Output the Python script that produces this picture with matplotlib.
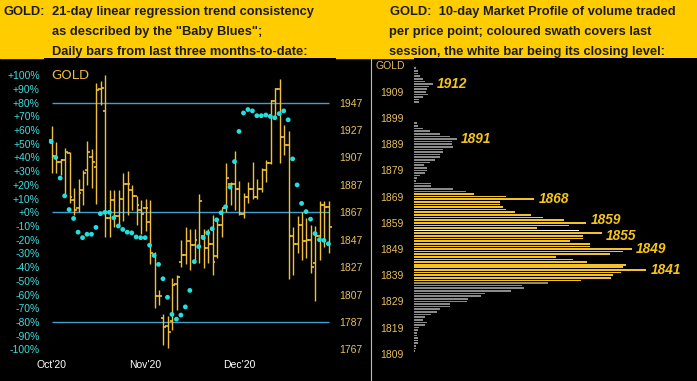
import numpy as np
import matplotlib
matplotlib.use("Agg")
import matplotlib.pyplot as plt
from matplotlib.lines import Line2D

plt.rcParams['font.family'] = ['Liberation Sans', 'DejaVu Sans']

# daily bars (price), left panel
opens  = [1920,1908,1904,1905,1910,1876,1870,1883,1898,1907,1900,1957,1941,1863,1876,1864,
          1877,1888,1883,1879,1869,1870,1860,1836,1806,1790,1784,1788,1815,1831,1836,1846,
          1843,1842,1850,1841,1844,1835,1858,1870,1888,1888,1884,1866,1878,1884,1878,1884,
          1898,1903,1948,1957,1922,1916,1850,1844,1858,1846,1847,1830,1850,1872,1871]
highs  = [1930,1918,1906,1914,1911,1885,1891,1898,1919,1913,1961,1963,1967,1883,1883,1883,
          1896,1897,1887,1879,1876,1877,1876,1838,1810,1793,1791,1819,1821,1847,1856,1855,
          1855,1880,1855,1855,1865,1863,1870,1903,1889,1912,1890,1881,1889,1904,1891,1899,
          1905,1949,1958,1964,1931,1926,1856,1864,1867,1863,1858,1857,1875,1875,1875]
lows   = [1896,1896,1894,1880,1874,1865,1867,1872,1887,1885,1873,1945,1849,1849,1856,1856,
          1861,1865,1869,1858,1851,1853,1829,1797,1799,1770,1768,1781,1796,1827,1829,1825,
          1831,1830,1826,1830,1821,1834,1849,1867,1872,1869,1865,1863,1874,1877,1877,1882,
          1889,1902,1936,1903,1909,1818,1821,1837,1832,1834,1823,1802,1832,1842,1837]
closes = [1908,1904,1905,1911,1878,1869,1881,1896,1911,1904,1956,1958,1863,1876,1864,1877,
          1888,1888,1879,1872,1866,1870,1837,1806,1806,1783,1780,1814,1820,1836,1846,1843,
          1847,1875,1841,1844,1831,1858,1870,1892,1888,1884,1866,1878,1884,1878,1884,1898,
          1903,1948,1957,1922,1916,1850,1844,1858,1846,1847,1827,1850,1872,1871,1856]

# "Baby Blues" trend consistency (%)
blues = [51.5,40,25,12,2,-4.5,-14.5,-18.5,-16,-16,-11,-1,0,0,-4,-10,-12.5,-14.5,-15,-18,
         -18.5,-18.5,-24,-31.5,-38,-48.5,-62,-74.5,-78,-75,-69,-57,-36,-25,-18.5,-15,-12,
         -5.5,-0.3,4,18.5,37,59,72.5,75,74,70.5,70.5,71,70,69,72,74,67.5,39,20,6.5,0.5,-5,
         -15.5,-20,-20.5,-23]

months = ["Oct'20", "Nov'20", "Dec'20"]
month_idx = [0, 21, 42]

# market profile, 1918 down to 1801
volume = [2,4.3,4.3,6,9.3,11,18.7,15.3,12.7,12,14.3,9.3,5.3,5.3,
          0.4,0.4,0.4,0.4,0.4,0.4,0.4,
          2.7,4.3,8.5,16,26,36,42.7,37.7,37.7,38.7,28.7,28.7,26,26,21,16,10,12.7,12.7,11,6,
          2.7,1.7,17,17,38.7,52,
          60,92,120,86,86,88.7,92,101,117,128.7,150,172,155,122.7,165,187.7,169,169,156,176,
          176,217.7,209,196,142,159,172.7,212,209,232,207,198.7,196.7,166.7,
          133.7,108,110,96.7,71,66.7,53.7,52.7,36,36,26,23.3,17,11,9.3,13.3,11,5.3,4.3,2.7,
          2.7,4.3,4.3,3.7,2,1.7,1,
          0.4,0.4,0.4,0.4,0.4,0.4,0.4,0.4,0.4]
prices = np.arange(1918, 1918 - len(volume), -1)
session_lo, session_hi, last_close = 1837, 1870, 1856
peaks = [1912, 1891, 1868, 1859, 1855, 1849, 1841]
label_nudge = {1859: 0.9, 1855: -0.9}

W, H = 697, 381
GOLDC = '#F0C03C'
PRICEC = '#E8C060'
CYAN = '#40DCDC'

fig = plt.figure(figsize=(W/100, H/100), dpi=100, facecolor='black')

def box(x0, y0, x1, y1):
    return [x0/W, 1 - y1/H, (x1 - x0)/W, (y1 - y0)/H]

# header band
fig.add_artist(plt.Rectangle((0, 1 - 57.5/H), 1, 57.5/H, transform=fig.transFigure,
                             color='#FFCC00', zorder=0))
hdr = dict(fontsize=9.3, weight='bold', color='#1c1c1c', va='baseline')
fig.text(4/W, 1 - 15/H, "GOLD:", **hdr)
fig.text(52/W, 1 - 15/H, "21-day linear regression trend consistency", **hdr)
fig.text(52/W, 1 - 35/H, 'as described by the "Baby Blues";', **hdr)
fig.text(52/W, 1 - 54.5/H, "Daily bars from last three months-to-date:", **hdr)
fig.text(390.5/W, 1 - 15/H, "GOLD:  10-day Market Profile of volume traded", **hdr)
fig.text(389/W, 1 - 35/H, "per price point; coloured swath covers last", **hdr)
fig.text(389/W, 1 - 54.5/H, "session, the white bar being its closing level:", **hdr)

# separator
fig.add_artist(Line2D([370.5/W, 370.5/W], [0, 1 - 58/H], transform=fig.transFigure,
                      color='#BBBBBB', lw=0.8))

# ---- left panel
n = len(closes)
x = np.arange(n)
xlim = (-1.72, 63.6)
ylim = (-123.1, 112.6)
ax = fig.add_axes(box(44, 58, 336, 381), facecolor='black')
ax.set_xlim(xlim)
ax.set_ylim(ylim)
for s in ax.spines.values():
    s.set_visible(False)
ax.set_xticks([])
ax.set_yticks(range(-100, 101, 10))
ax.set_yticklabels([f"{v:+d}%" for v in range(-100, 101, 10)])
ax.tick_params(axis='y', colors=CYAN, labelsize=7.5, length=0, pad=3)
ax.hlines([80, 0, -80], 0, n - 1, color='#3FA0CF', lw=1.0, zorder=1)

ax2 = ax.twinx()
ax2.set_ylim(ylim[0] + 1867, ylim[1] + 1867)
for s in ax2.spines.values():
    s.set_visible(False)
ax2.set_yticks(range(1767, 1948, 20))
ax2.tick_params(axis='y', colors=PRICEC, labelsize=7.5, length=0, pad=2)
ax2.vlines(x, lows, highs, color=GOLDC, lw=1.0, zorder=2)
ax2.hlines(opens, x - 0.6, x, color=GOLDC, lw=1.2, zorder=2)
ax2.hlines(closes, x, x + 0.6, color=GOLDC, lw=1.2, zorder=2)

# dots on top, own overlay axes
axd = fig.add_axes(box(44, 58, 336, 381))
axd.set_xlim(xlim)
axd.set_ylim(ylim)
axd.axis('off')
axd.scatter(x - 0.1, blues, s=12, color='#22E0E0', edgecolors='none', zorder=3)

axd.text(0, 100, "GOLD", color='#E8B840', fontsize=9.5, family='DejaVu Sans',
         ha='left', va='center')
for i, m in zip(month_idx, months):
    axd.text(i, -111.5, m, color='white', fontsize=7.5, ha='center', va='center')

# ---- right panel: market profile
ax3 = fig.add_axes(box(414, 58, 697, 381), facecolor='black')
ax3.set_xlim(0, 283)
ax3.set_ylim(1798.6, 1921.9)
for s in ax3.spines.values():
    s.set_visible(False)
colors = []
for p in prices:
    if p == last_close:
        colors.append('white')
    elif session_lo <= p <= session_hi:
        colors.append('#F2C12E')
    else:
        colors.append('#8A8A8A')
ax3.barh(prices, volume, height=0.62, color=colors, linewidth=0)
ax3.set_xticks([])
ax3.set_yticks(range(1809, 1910, 10))
ax3.tick_params(axis='y', colors=PRICEC, labelsize=7.5, length=0, pad=7.5)
vol_at = dict(zip(prices, volume))
for p in peaks:
    ax3.text(vol_at[p] + 4.5, p + label_nudge.get(p, 0), str(p), color='#F5C518',
             fontsize=9.8, weight='bold', style='italic', ha='left', va='center')
fig.text(376/W, 1 - 66/H, "GOLD", color=PRICEC, fontsize=7.5, ha='left', va='center')

fig.savefig("out.png", dpi=100, facecolor='black')
